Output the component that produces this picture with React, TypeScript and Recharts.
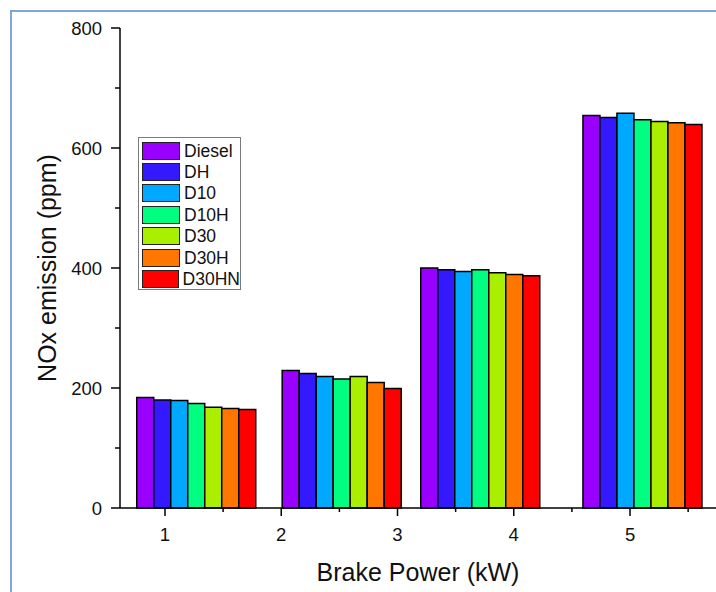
import React from 'react';
import { BarChart, Bar, XAxis, YAxis, Legend } from 'recharts';

// Group positions on the Brake Power axis
const brakePowerPositions = [1.267, 2.518, 3.71, 5.105];

const seriesNames = ['Diesel', 'DH', 'D10', 'D10H', 'D30', 'D30H', 'D30HN'];
const diesel = [184, 229, 400, 654];
const dh = [180, 224, 397, 651];
const d10 = [179, 219, 394, 658];
const d10h = [174, 215, 397, 647];
const d30 = [168, 219, 392, 644];
const d30h = [166, 209, 389, 642];
const d30hn = [164, 199, 387, 639];
const seriesColors = ['#9900ff', '#3419ff', '#00a8ff', '#00ff80', '#aaee00', '#ff7700', '#ff0000'];

const xTicks = [1, 1.5, 2, 2.5, 3, 3.5, 4, 4.5, 5, 5.5];
const yTicks = [0, 100, 200, 300, 400, 500, 600, 700, 800];

const xTitle = 'Brake Power (kW)';
const yTitle = 'NOx emission (ppm)';

const seriesValues = [diesel, dh, d10, d10h, d30, d30h, d30hn];

const data = brakePowerPositions.map((x, i) => {
  const row: Record<string, number> = { x };
  seriesNames.forEach((name, s) => {
    row[name] = seriesValues[s][i];
  });
  return row;
});

const FONT = '"Liberation Sans", Arial, Helvetica, sans-serif';

const XTick = (props: any) => {
  const { x, y, payload } = props;
  const v = payload.value;
  const major = Math.abs(v - Math.round(v)) < 1e-6;
  return (
    <g>
      <line x1={x} y1={y} x2={x} y2={y + (major ? 8 : 4)} stroke="#000" strokeWidth={1.5} />
      {major && (
        <text x={x} y={y + 33} textAnchor="middle" fontSize={18.5} fill="#111" fontFamily={FONT}>
          {v}
        </text>
      )}
    </g>
  );
};

const YTick = (props: any) => {
  const { x, y, payload } = props;
  const v = payload.value;
  const major = v % 200 === 0;
  return (
    <g>
      <line x1={x} y1={y} x2={x - (major ? 9 : 5)} y2={y} stroke="#000" strokeWidth={1.5} />
      {major && (
        <text x={x - 18} y={y + 6.5} textAnchor="end" fontSize={18.5} fill="#111" fontFamily={FONT}>
          {v}
        </text>
      )}
    </g>
  );
};

const renderLegend = () => (
  <div
    style={{
      width: 103,
      height: 153,
      boxSizing: 'border-box',
      border: '1px solid #7a7a7a',
      background: '#fff',
      paddingTop: 2,
      paddingLeft: 3,
      fontFamily: FONT,
    }}
  >
    {seriesNames.map((name, i) => (
      <div key={name} style={{ display: 'flex', alignItems: 'center', height: 21.4 }}>
        <div
          style={{
            width: 38,
            height: 18,
            boxSizing: 'border-box',
            border: '1.5px solid #222',
            background: seriesColors[i],
          }}
        />
        <span style={{ marginLeft: 4, fontSize: 17.5, color: '#111', lineHeight: '18px' }}>{name}</span>
      </div>
    ))}
  </div>
);

export default function App() {
  return (
    <div
      style={{
        position: 'absolute',
        left: 0,
        top: 0,
        width: 716,
        height: 592,
        overflow: 'hidden',
        background: '#fff',
      }}
    >
      <div
        style={{
          position: 'absolute',
          left: 10,
          top: 10,
          width: 760,
          height: 640,
          border: '2px solid #7fa7d9',
        }}
      />
      <div style={{ position: 'absolute', left: 0, top: 0 }}>
        <BarChart
          width={800}
          height={592}
          data={data}
          margin={{ top: 28, right: 35, bottom: 24, left: 60 }}
          barGap={0}
        >
          <XAxis
            dataKey="x"
            type="number"
            domain={[0.613, 6.161]}
            allowDataOverflow
            ticks={xTicks}
            interval={0}
            tick={<XTick />}
            tickLine={false}
            tickSize={0}
            tickMargin={0}
            height={60}
            axisLine={{ stroke: '#000', strokeWidth: 1.5 }}
          />
          <YAxis
            type="number"
            domain={[0, 800]}
            ticks={yTicks}
            interval={0}
            tick={<YTick />}
            tickLine={false}
            tickSize={0}
            tickMargin={0}
            width={60}
            axisLine={{ stroke: '#000', strokeWidth: 1.5 }}
          />
          <Legend
            layout="vertical"
            align="center"
            verticalAlign="middle"
            content={renderLegend}
            wrapperStyle={{ left: 138, top: 137, width: 103, height: 153 }}
          />
          {seriesNames.map((name, i) => (
            <Bar
              key={name}
              dataKey={name}
              fill={seriesColors[i]}
              stroke="#000"
              strokeWidth={1.5}
              barSize={17}
              isAnimationActive={false}
            />
          ))}
        </BarChart>
      </div>
      <svg
        width={716}
        height={592}
        style={{ position: 'absolute', left: 0, top: 0, pointerEvents: 'none' }}
      >
        <text x={418} y={581} textAnchor="middle" fontSize={25} fill="#111" fontFamily={FONT}>
          {xTitle}
        </text>
        <text
          x={0}
          y={0}
          transform="translate(56 268) rotate(-90)"
          textAnchor="middle"
          fontSize={25}
          fill="#111"
          fontFamily={FONT}
        >
          {yTitle}
        </text>
      </svg>
    </div>
  );
}
